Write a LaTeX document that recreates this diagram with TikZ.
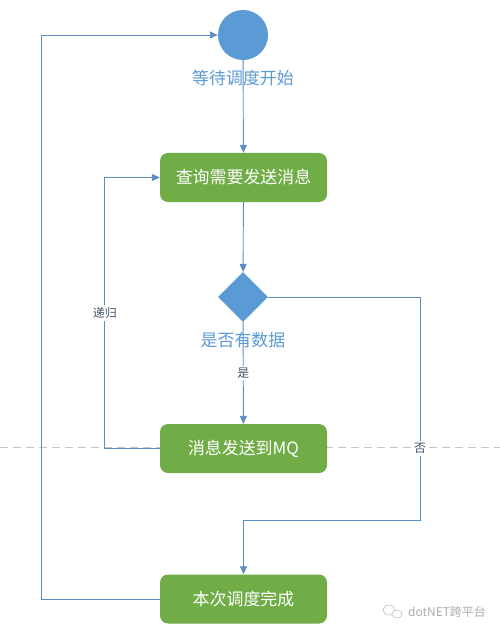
\documentclass[tikz,border=0pt]{standalone}
\usepackage{fontspec}
\newfontfamily\cjk{Noto Sans CJK SC}
\usetikzlibrary{arrows.meta,shapes.geometric}
\definecolor{flowblue}{HTML}{5B9BD5}
\definecolor{flowgreen}{HTML}{70AD47}
\definecolor{flowline}{HTML}{5B8CC6}
\definecolor{flowtext}{HTML}{44546A}

\tikzset{
	actbox/.style={rectangle, rounded corners=8bp, fill=flowgreen, text=white,
		minimum width=167bp, minimum height=49bp, inner sep=0pt,
		font=\cjk\fontsize{17}{17}\selectfont},
	bluelbl/.style={text=flowblue, inner sep=0pt, font=\cjk\fontsize{17}{17}\selectfont},
	edgelbl/.style={fill=white, text=flowtext, inner sep=2bp, font=\cjk\fontsize{12}{12}\selectfont},
	flow/.style={draw=flowline, line width=0.9bp, -{Triangle[length=8bp,width=7bp]}}
}

\begin{document}
\begin{tikzpicture}[x=1bp, y=-1bp]
	%%%%% START %%%%%
	\useasboundingbox[fill=white] (0,0) rectangle (500,637);

	% page break line
	\coordinate (breakl) at (0,447);
	\coordinate (breakr) at (500,447);
	\draw[gray!45, line width=0.8bp, dash pattern=on 8bp off 5bp] (breakl) -- (breakr);

	\node[circle, fill=flowblue, minimum size=50bp, inner sep=0pt] (start) at (243,35) {};
	\node[actbox] (query) at (243.5,177.5) {查询需要发送消息};
	\node[diamond, fill=flowblue, minimum width=50bp, minimum height=50bp, inner sep=0pt] (check) at (243,297) {};
	\node[actbox] (send) at (243.5,448.5) {消息发送到MQ};
	\node[actbox] (done) at (243.5,599) {本次调度完成};

	\coordinate (noturn) at (420,520);

	\draw[flow] (start) -- (query);
	\draw[flow] (query) -- (check);
	\draw[flow] (check) -- node[edgelbl] {是} (send);
	\draw[flow] (send.west) -- ++(-55,0) |- node[edgelbl, pos=0.25] {递归} (query.west);
	\draw[flow] (check.east) -| node[edgelbl, pos=0.84] {否} (noturn) -| (done.north);
	\draw[flow] (done.west) -- ++(-118,0) |- (start.west);

	\node[bluelbl] (startlbl) at (243,78) {等待调度开始};
	\node[bluelbl] (checklbl) at (243,340) {是否有数据};

	% watermark
	\draw[gray!45, line width=0.7bp] (389,610) ellipse (6bp and 5bp);
	\draw[gray!45, line width=0.7bp, fill=white] (397,614) ellipse (5bp and 4bp);
	\node[text=gray!65, font=\cjk\fontsize{12}{12}\selectfont] (mark) at (447,612) {dotNET跨平台};
	%%%%% END %%%%%
\end{tikzpicture}
\end{document}
